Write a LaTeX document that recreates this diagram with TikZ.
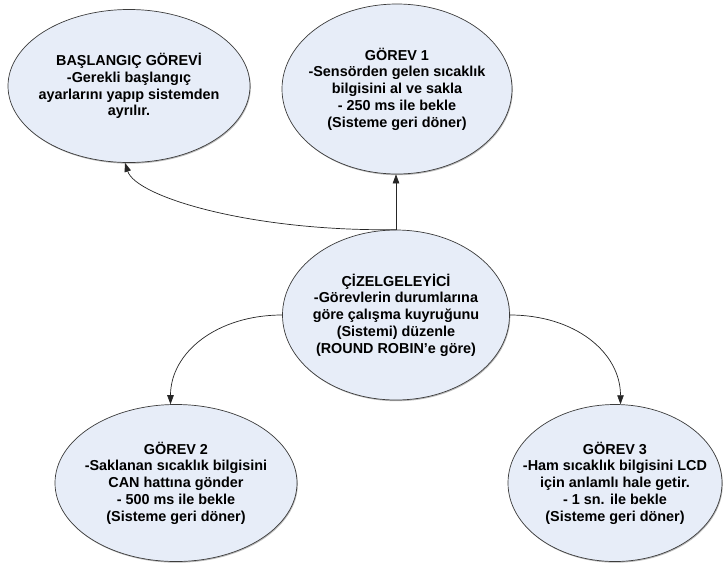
\documentclass[tikz,border=0pt]{standalone}
\usepackage{fontspec}
\setmainfont{Liberation Sans}
\usetikzlibrary{shapes.geometric,arrows.meta,shadows}
\definecolor{ellfill}{RGB}{231,237,248}
\definecolor{elldraw}{RGB}{60,60,60}
\begin{document}
\begin{tikzpicture}[x=1pt,y=-1pt,
  task/.style={ellipse, draw=elldraw, fill=ellfill, line width=0.7pt,
    inner xsep=-40pt, inner ysep=0pt,
    align=center, font=\bfseries\fontsize{14.4}{16.8}\selectfont,
    drop shadow={shadow xshift=0.8pt,shadow yshift=-1.2pt,fill=black!45,opacity=0.6}},
  conn/.style={draw=black!85, line width=0.7pt, -{Triangle[length=9pt,width=6.5pt]}}]
\useasboundingbox[fill=white] (0,0) rectangle (725,571);
\node[task, minimum width=242pt, minimum height=153pt] (bs) at (129,86)
  {BAŞLANGIÇ GÖREVİ\\-Gerekli başlangıç\\ayarlarını yapıp sistemden\\ayrılır.};
\node[task, minimum width=230pt, minimum height=170pt] (g1) at (397,89)
  {GÖREV 1\\-Sensörden gelen sıcaklık\\bilgisini al ve sakla\\- 250 ms ile bekle\\(Sisteme geri döner)};
\node[task, minimum width=227pt, minimum height=170pt] (cz) at (396,315)
  {ÇİZELGELEYİCİ\\-Görevlerin durumlarına\\göre çalışma kuyruğunu\\(Sistemi) düzenle\\(ROUND ROBIN’e göre)};
\node[task, minimum width=242pt, minimum height=157pt] (g2) at (176,483)
  {GÖREV 2\\-Saklanan sıcaklık bilgisini\\CAN hattına gönder\\- 500 ms ile bekle\\(Sisteme geri döner)};
\node[task, minimum width=214pt, minimum height=157pt] (g3) at (615,483)
  {GÖREV 3\\-Ham sıcaklık bilgisini LCD\\için anlamlı hale getir.\\- 1 sn. ile bekle\\(Sisteme geri döner)};
\draw[conn] (cz.north) -- (cz.north |- g1.south);
\draw[conn] (cz.north) .. controls +(-145,2) and +(11,34) .. (bs.267);
\draw[conn] (cz.west) .. controls +(-65,0) and +(0,-52) .. (g2.94);
\draw[conn] (cz.east) .. controls +(65,0) and +(0,-52) .. (g3.86);
\end{tikzpicture}
\end{document}
